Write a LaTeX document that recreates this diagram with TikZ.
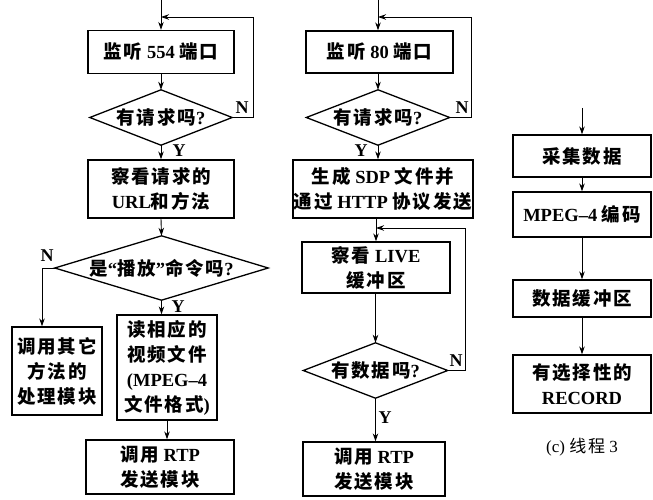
\documentclass[tikz,border=0pt]{standalone}
\usepackage{fontspec}
\usetikzlibrary{arrows.meta}
\setmainfont{Liberation Serif}
\newfontfamily\cjk{Noto Sans CJK SC}[LetterSpace=10]
\newcommand\zh[1]{{\cjk #1}}
\tikzset{
  box/.style={draw, line width=1.3pt, align=center, inner sep=0pt,
    font=\fontsize{18.5}{25}\selectfont\bfseries},
  dia/.style={align=center, inner sep=0pt,
    font=\fontsize{18.5}{25}\selectfont\bfseries},
  arr/.style={line width=0.9pt, -{Stealth[length=8pt,width=5.5pt]}},
  lab/.style={font=\fontsize{18}{20}\selectfont\bfseries, inner sep=0pt},
  captext/.style={font=\fontsize{17}{20}\selectfont, inner sep=0pt}
}
\newcommand\diashape[1]{\draw[line width=1.3pt] (#1.west) -- (#1.north) -- (#1.east) -- (#1.south) -- cycle;}
\begin{document}
\begin{tikzpicture}[x=1pt,y=-1pt]
\useasboundingbox (0,0) rectangle (653,500);
% ---------- column 1 ----------
\coordinate (s1) at (161,0);
\coordinate (l1) at (161,17);
\node[box, minimum width=146pt, minimum height=43pt] (b11) at (161,52) {\zh{监听} 554 \zh{端口}};
\node[dia, minimum width=142pt, minimum height=55pt] (d11) at (161,117.5) {\zh{有请求吗}?};
\diashape{d11}
\node[box, minimum width=146pt, minimum height=58pt] (b12) at (161,189) {\zh{察看请求的}\\URL\zh{和方法}};
\node[dia, minimum width=213pt, minimum height=64pt] (d12) at (161.5,268) {\zh{是}“\zh{播放}”\zh{命令吗}?};
\diashape{d12}
\node[box, minimum width=90pt, minimum height=88pt] (b13) at (57,371) {\zh{调用其它}\\\zh{方法的}\\\zh{处理模块}};
\node[box, minimum width=100pt, minimum height=105pt] (b14) at (167,367.5) {\zh{读相应的}\\\zh{视频文件}\\(MPEG–4\\\zh{文件格式})};
\node[box, minimum width=148pt, minimum height=54pt] (b15) at (160,467) {\zh{调用} RTP\\\zh{发送模块}};

\draw[arr] (s1) -- (b11.north);
\draw[arr] (d11.east) -- ++(21,0) |- (l1);
\draw[arr] (b11.south) -- (d11.north);
\draw[arr] (d11.south) -- (b12.north);
\draw[arr] (b12.south) -- (d12.north);
\draw[arr] (d12.west) -| ([xshift=-15pt]b13.north);
\draw[arr] (d12.south) -- (d12.south |- b14.north);
\draw[arr] (b14.south) -- (b14.south |- b15.north);
\node[lab] (n11) at (242,108) {N};
\node[lab] (y11) at (179,151) {Y};
\node[lab] (n12) at (47,256) {N};
\node[lab] (y12) at (178,307) {Y};

% ---------- column 2 ----------
\coordinate (s2) at (378,0);
\coordinate (l2) at (378,17);
\coordinate (l3) at (376,228);
\node[box, minimum width=147pt, minimum height=42pt] (b21) at (379.5,52) {\zh{监听} 80 \zh{端口}};
\node[dia, minimum width=143pt, minimum height=55pt] (d21) at (378,117.5) {\zh{有请求吗}?};
\diashape{d21}
\node[box, minimum width=180pt, minimum height=58pt] (b22) at (383,189) {\zh{生成} SDP \zh{文件并}\\\zh{通过} HTTP \zh{协议发送}};
\node[box, minimum width=148pt, minimum height=51pt] (b23) at (376,267.5) {\zh{察看} LIVE\\\zh{缓冲区}};
\node[dia, minimum width=144pt, minimum height=55pt] (d22) at (375.5,370.5) {\zh{有数据吗}?};
\diashape{d22}
\node[box, minimum width=142pt, minimum height=54pt] (b24) at (374,469) {\zh{调用} RTP\\\zh{发送模块}};

\draw[arr] (s2) -- (s2 |- b21.north);
\draw[arr] (d21.east) -- ++(22,0) |- (l2);
\draw[arr] (d21.north |- b21.south) -- (d21.north);
\draw[arr] (d21.south) -- (d21.south |- b22.north);
\draw[arr] (b23.north |- b22.south) -- (b23.north);
\draw[arr] (d22.east) -- ++(18,0) |- (l3);
\draw[arr] (d22.north |- b23.south) -- (d22.north);
\draw[arr] (d22.south) -- (d22.south |- b24.north);
\node[lab] (n21) at (462,108) {N};
\node[lab] (y21) at (361,151) {Y};
\node[lab] (n22) at (456,361) {N};
\node[lab] (y22) at (385,418) {Y};

% ---------- column 3 ----------
\coordinate (s3) at (582,108);
\node[box, minimum width=138pt, minimum height=42pt] (b31) at (582,156) {\zh{采集数据}};
\node[box, minimum width=138pt, minimum height=45pt] (b32) at (582,214.5) {MPEG–4 \zh{编码}};
\node[box, minimum width=138pt, minimum height=37pt] (b33) at (582,298.5) {\zh{数据缓冲区}};
\node[box, minimum width=138pt, minimum height=58pt] (b34) at (582,384) {\zh{有选择性的}\\RECORD};
\node[captext] (c3) at (582,447) {(c) {\cjk 线程} 3};

\draw[arr] (s3) -- (b31.north);
\draw[arr] (b31.south) -- (b32.north);
\draw[arr] (b32.south) -- (b33.north);
\draw[arr] (b33.south) -- (b34.north);
\end{tikzpicture}
\end{document}
